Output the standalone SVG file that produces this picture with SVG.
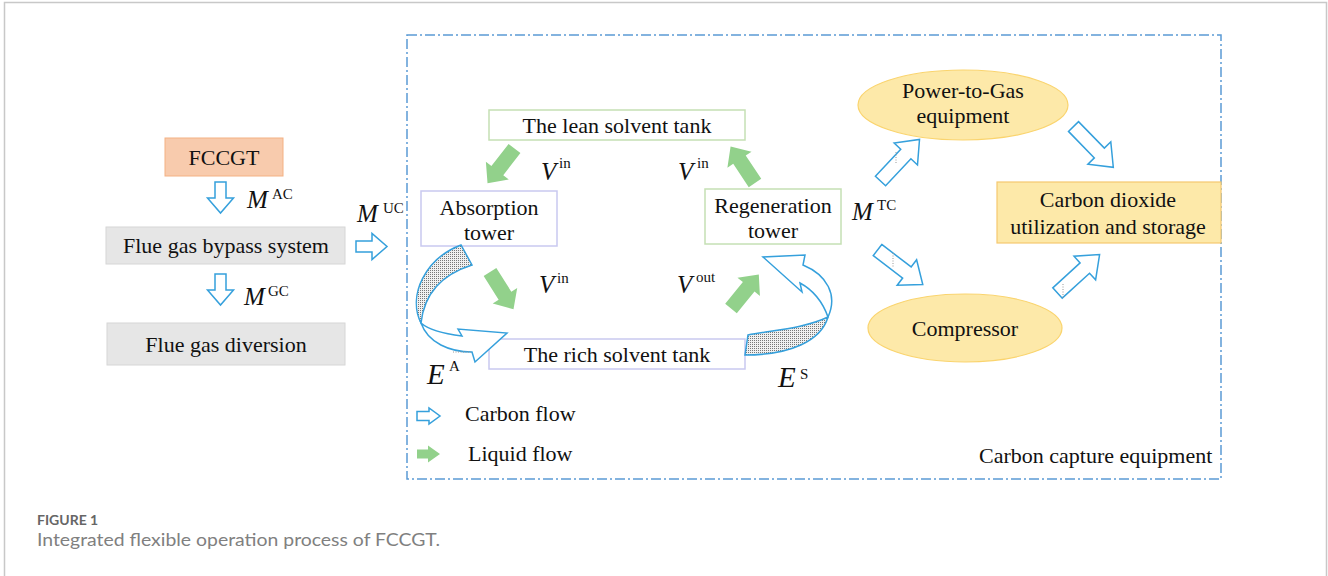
<svg xmlns="http://www.w3.org/2000/svg" xmlns:xlink="http://www.w3.org/1999/xlink" width="1328" height="576" viewBox="0 0 1328 576">
<style>
.t{font-family:"Liberation Serif","Times New Roman",serif;font-size:22px;fill:#111}
.tm{text-anchor:middle}
.it{font-family:"Liberation Serif","Times New Roman",serif;font-style:italic;fill:#111}
.sup{font-family:"Liberation Serif","Times New Roman",serif;fill:#111;font-size:15px}
.hol{fill:#fff;stroke:#35a0dc;stroke-width:1.5;stroke-linejoin:miter}
.grn{fill:#92d18b;stroke:none}
.dot{stroke:#999;stroke-width:1;stroke-dasharray:1 1.5;fill:none}
</style>
<defs>
<pattern id="dots" width="2" height="2" patternUnits="userSpaceOnUse">
<rect width="2" height="2" fill="#f0f0f0"/>
<rect width="1" height="1" fill="#777"/>
</pattern>
<polygon id="hs" points="0,-5.5 16,-5.5 16,-13 31,0 16,13 16,5.5 0,5.5"/>
<polygon id="hd" points="0,-7 37,-7 37,-16 57,0 37,16 37,7 0,7"/>
<polygon id="ga" points="0,-7.5 28,-7.5 28,-14.5 44,0 28,14.5 28,7.5 0,7.5"/>
</defs>
<rect width="1328" height="576" fill="#fff"/>
<path d="M4.5,576 V2.5 H1326.5 V576" fill="none" stroke="#c8c8c8" stroke-width="1.5"/>

<g id="capture-boundary">
<rect x="407" y="35" width="814" height="444" fill="none" stroke="#5b9bd5" stroke-width="1.5" stroke-dasharray="10 3 2 3"/>
<text class="t" x="979" y="463">Carbon capture equipment</text>
</g>

<g id="fccgt">
<rect x="165" y="138" width="118" height="38" fill="#f8cbad" stroke="#f4b183" stroke-width="1"/>
<text class="t tm" x="224" y="165">FCCGT</text>
</g>
<g id="bypass">
<rect x="106" y="227" width="239" height="37" fill="#e6e6e6" stroke="#d6d6d6" stroke-width="1"/>
<text class="t tm" x="226" y="253">Flue gas bypass system</text>
</g>
<g id="diversion">
<rect x="107" y="323" width="238" height="42" fill="#e6e6e6" stroke="#d6d6d6" stroke-width="1"/>
<text class="t tm" x="226" y="352">Flue gas diversion</text>
</g>
<g id="lean-tank">
<rect x="489" y="110" width="256" height="30" fill="#fff" stroke="#c5e0b4" stroke-width="1.5"/>
<text class="t tm" x="617" y="133">The lean solvent tank</text>
</g>
<g id="absorption">
<rect x="421" y="191" width="136" height="55" fill="#fff" stroke="#c9c9f0" stroke-width="1.5"/>
<text class="t tm" x="489" y="215">Absorption</text>
<text class="t tm" x="489" y="240">tower</text>
</g>
<g id="regeneration">
<rect x="705" y="189" width="136" height="55" fill="#fff" stroke="#c5e0b4" stroke-width="1.5"/>
<text class="t tm" x="773" y="213">Regeneration</text>
<text class="t tm" x="773" y="238">tower</text>
</g>
<g id="rich-tank">
<rect x="489" y="339" width="256" height="30" fill="#fff" stroke="#c9c9f0" stroke-width="1.5"/>
<text class="t tm" x="617" y="362">The rich solvent tank</text>
</g>
<g id="ptg">
<ellipse cx="963" cy="105" rx="105" ry="35" fill="#fde9a9" stroke="#fad46e" stroke-width="1.2"/>
<text class="t tm" x="963" y="98">Power-to-Gas</text>
<text class="t tm" x="963" y="123">equipment</text>
</g>
<g id="compressor">
<ellipse cx="965" cy="328" rx="97" ry="34" fill="#fde9a9" stroke="#fad46e" stroke-width="1.2"/>
<text class="t tm" x="965" y="336">Compressor</text>
</g>
<g id="co2">
<rect x="997" y="182" width="224" height="61" fill="#fde9a9" stroke="#f5c870" stroke-width="1.2"/>
<text class="t tm" x="1108" y="207">Carbon dioxide</text>
<text class="t tm" x="1108" y="234">utilization and storage</text>
</g>

<g id="connectors">
<use href="#hs" class="hol" transform="translate(220.5,182) rotate(90)"/>
<use href="#hs" class="hol" transform="translate(220.5,274) rotate(90)"/>
<use href="#hs" class="hol" transform="translate(356,246.5)"/>
<use href="#hd" class="hol" transform="translate(880.5,181) rotate(-46.8)"/>
<use href="#hd" class="hol" transform="translate(877.5,250) rotate(37.4)"/>
<use href="#hd" class="hol" transform="translate(1073.5,126.5) rotate(45.7)"/>
<use href="#hd" class="hol" transform="translate(1057.5,293) rotate(-42.4)"/>
<line class="dot" x1="896" y1="152" x2="896" y2="163"/>
<line class="dot" x1="893" y1="253" x2="893" y2="268"/>
<line class="dot" x1="1063" y1="284" x2="1063" y2="298"/>
<use href="#ga" class="grn" transform="translate(514.5,148.5) rotate(127.8)"/>
<use href="#ga" class="grn" transform="translate(490,272) rotate(57.7)"/>
<use href="#ga" class="grn" transform="translate(755,183) rotate(-123.7)"/>
<use href="#ga" class="grn" transform="translate(731,308.5) rotate(-50.8)"/>
<g id="energy-a">
<path d="M461,245 C426,258 407,295 421,323 C424,296 440,275 472,265 Z" fill="url(#dots)" stroke="#35a0dc" stroke-width="1.5"/>
<path d="M421,323 C430,331 446,334 462,336 L458,329 L507,333 L475,362 L472,352 C450,352 428,343 421,323 Z" class="hol"/>
<line class="dot" x1="453" y1="352" x2="471" y2="352"/>
</g>
<g id="energy-s">
<path d="M748,335 C775,330 805,328 828,317 C821,341 790,355 745,355 Z" fill="url(#dots)" stroke="#35a0dc" stroke-width="1.5"/>
<path d="M828,317 C838,295 827,275 803,265 L805,255 L763,257 L802,292 L800,283 C813,290 823,303 828,317 Z" class="hol"/>
</g>
</g>

<g id="labels">
<text class="it" x="247" y="208" font-size="25">M</text><text class="sup" x="272" y="199" font-size="14">AC</text>
<text class="it" x="244" y="305" font-size="25">M</text><text class="sup" x="268" y="296" font-size="14">GC</text>
<text class="it" x="357" y="222" font-size="25">M</text><text class="sup" x="383" y="213" font-size="14">UC</text>
<text class="it" x="852" y="220" font-size="25">M</text><text class="sup" x="877" y="210" font-size="14">TC</text>
<text class="it" x="541" y="180" font-size="25">V</text><text class="sup" x="559" y="168">in</text>
<text class="it" x="678" y="180" font-size="25">V</text><text class="sup" x="697" y="168">in</text>
<text class="it" x="539" y="293" font-size="25">V</text><text class="sup" x="557" y="283">in</text>
<text class="it" x="677" y="293" font-size="25">V</text><text class="sup" x="696" y="282">out</text>
<text class="it" x="427" y="384" font-size="29">E</text><text class="sup" x="449" y="371" font-size="15">A</text>
<text class="it" x="778" y="387" font-size="29">E</text><text class="sup" x="800" y="379" font-size="17">S</text>
</g>

<g id="legend">
<polygon class="hol" points="417,411.5 429,411.5 429,408 440,416 429,424 429,420.5 417,420.5"/>
<text class="t" x="465" y="421">Carbon flow</text>
<polygon class="grn" points="417,449.5 428,449.5 428,445.5 440,454 428,462.5 428,458.5 417,458.5"/>
<text class="t" x="468" y="461">Liquid flow</text>
</g>

<g id="caption">
<text x="37" y="525" font-family="Lato,'Open Sans',sans-serif" font-weight="bold" font-size="14" fill="#666">FIGURE 1</text>
<text x="37" y="546" font-family="Lato,'Open Sans',sans-serif" font-size="18" fill="#808080" textLength="403" lengthAdjust="spacingAndGlyphs">Integrated flexible operation process of FCCGT.</text>
</g>
</svg>
